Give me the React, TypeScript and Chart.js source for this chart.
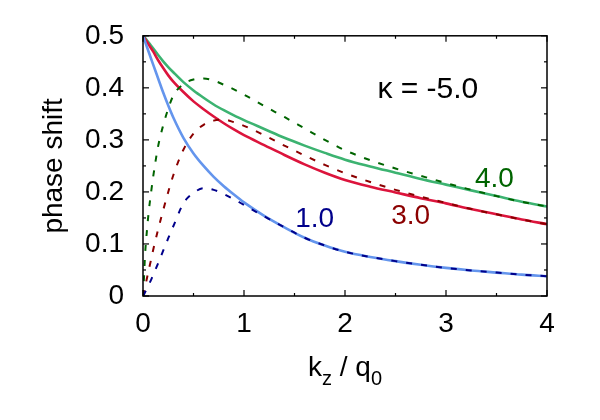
import { useEffect, useRef } from 'react';
import { Chart, registerables } from 'chart.js';
import type { Plugin } from 'chart.js';

Chart.register(...registerables);

// k_z / q_0 grid (finer near 0 where the dashed curves rise fast)
const kValues = [0, 0.01, 0.02, 0.04, 0.06, 0.08, 0.1, 0.15, 0.2, 0.25, 0.3, 0.4, 0.5, 0.6, 0.7, 0.8, 0.9, 1.0, 1.2, 1.4, 1.6, 1.8, 2.0, 2.25, 2.5, 2.75, 3.0, 3.25, 3.5, 3.75, 4.0];

// solid curves
const solid1 = [0.5, 0.4945, 0.489, 0.478, 0.467, 0.456, 0.445, 0.418, 0.391, 0.366, 0.343, 0.304, 0.274, 0.25, 0.229, 0.211, 0.195, 0.18, 0.154, 0.132, 0.112, 0.097, 0.085, 0.075, 0.067, 0.06, 0.054, 0.049, 0.045, 0.041, 0.038];
const solid3 = [0.5, 0.497, 0.494, 0.488, 0.482, 0.476, 0.47, 0.453, 0.438, 0.424, 0.412, 0.392, 0.374, 0.359, 0.345, 0.332, 0.32, 0.309, 0.29, 0.271, 0.253, 0.237, 0.223, 0.21, 0.199, 0.188, 0.178, 0.167, 0.157, 0.147, 0.138];
const solid4 = [0.5, 0.498, 0.496, 0.491, 0.486, 0.481, 0.476, 0.463, 0.451, 0.44, 0.43, 0.411, 0.395, 0.381, 0.368, 0.357, 0.347, 0.338, 0.321, 0.304, 0.289, 0.275, 0.262, 0.249, 0.237, 0.225, 0.214, 0.203, 0.192, 0.181, 0.172];

// dashed curves
const dashed1 = [0, 0.003, 0.007, 0.015, 0.023, 0.031, 0.04, 0.063, 0.087, 0.111, 0.134, 0.178, 0.198, 0.207, 0.204, 0.196, 0.186, 0.175, 0.153, 0.132, 0.112, 0.097, 0.085, 0.075, 0.067, 0.06, 0.054, 0.049, 0.045, 0.041, 0.038];
const dashed3 = [0, 0.008, 0.017, 0.035, 0.053, 0.07, 0.088, 0.128, 0.165, 0.2, 0.232, 0.281, 0.312, 0.329, 0.337, 0.339, 0.334, 0.327, 0.309, 0.289, 0.27, 0.252, 0.236, 0.219, 0.204, 0.191, 0.179, 0.167, 0.157, 0.147, 0.138];
const dashed4 = [0, 0.036, 0.078, 0.128, 0.168, 0.199, 0.228, 0.288, 0.328, 0.36, 0.385, 0.407, 0.416, 0.418, 0.414, 0.406, 0.397, 0.387, 0.365, 0.344, 0.322, 0.3, 0.28, 0.261, 0.245, 0.231, 0.217, 0.204, 0.192, 0.181, 0.172];

const xMinorTicks = [0.5, 1.5, 2.5, 3.5];
const yMinorTicks = [0.05, 0.15, 0.25, 0.35, 0.45];

const curveLabels = ['1.0', '3.0', '4.0'];
const kappaLabel = 'κ = -5.0';

const FONT = '"Liberation Sans", Arial, sans-serif';

const toPoints = (ys: number[]) => kValues.map((k, i) => ({ x: k, y: ys[i] }));

const frameAndText: Plugin<'line'> = {
  id: 'frameAndText',
  afterDraw(chart) {
    const { ctx, chartArea: a } = chart;
    const xs = chart.scales.x;
    const ys = chart.scales.y;
    ctx.save();
    ctx.strokeStyle = '#000';
    ctx.lineWidth = 1.2;
    const seg = (x1: number, y1: number, x2: number, y2: number) => {
      ctx.beginPath();
      ctx.moveTo(x1, y1);
      ctx.lineTo(x2, y2);
      ctx.stroke();
    };
    // inward ticks on all four sides
    xs.ticks.forEach(t => {
      const px = xs.getPixelForValue(t.value);
      seg(px, a.bottom, px, a.bottom - 6);
      seg(px, a.top, px, a.top + 6);
    });
    xMinorTicks.forEach(v => {
      const px = xs.getPixelForValue(v);
      seg(px, a.bottom, px, a.bottom - 3);
      seg(px, a.top, px, a.top + 3);
    });
    ys.ticks.forEach(t => {
      const py = ys.getPixelForValue(t.value);
      seg(a.left, py, a.left + 6, py);
      seg(a.right, py, a.right - 6, py);
    });
    yMinorTicks.forEach(v => {
      const py = ys.getPixelForValue(v);
      seg(a.left, py, a.left + 3, py);
      seg(a.right, py, a.right - 3, py);
    });
    ctx.lineWidth = 1.5;
    ctx.strokeRect(a.left, a.top, a.right - a.left, a.bottom - a.top);

    // axis titles
    ctx.fillStyle = '#000';
    ctx.textBaseline = 'middle';
    ctx.textAlign = 'center';
    ctx.font = `28px ${FONT}`;
    ctx.save();
    ctx.translate(54, (a.top + a.bottom) / 2);
    ctx.rotate(-Math.PI / 2);
    ctx.fillText('phase shift', 0, 0);
    ctx.restore();

    // k_z / q_0 with subscripts
    const big = `28px ${FONT}`;
    const small = `20px ${FONT}`;
    const parts: [string, boolean][] = [['k', false], ['z', true], [' / q', false], ['0', true]];
    let total = 0;
    parts.forEach(([s, sub]) => {
      ctx.font = sub ? small : big;
      total += ctx.measureText(s).width;
    });
    let cx = (a.left + a.right) / 2 - total / 2;
    const baseY = 376;
    ctx.textAlign = 'left';
    ctx.textBaseline = 'alphabetic';
    parts.forEach(([s, sub]) => {
      ctx.font = sub ? small : big;
      ctx.fillText(s, cx, sub ? baseY + 9 : baseY);
      cx += ctx.measureText(s).width;
    });

    // annotations in data coordinates
    ctx.textAlign = 'center';
    ctx.textBaseline = 'middle';
    ctx.font = `30px ${FONT}`;
    ctx.fillStyle = '#000';
    ctx.fillText(kappaLabel, xs.getPixelForValue(2.82), ys.getPixelForValue(0.397));
    ctx.font = `28px ${FONT}`;
    const labelPos: [number, number, string][] = [
      [1.7, 0.148, '#00008b'],
      [2.65, 0.154, '#8b0000'],
      [3.48, 0.225, '#006400'],
    ];
    curveLabels.forEach((txt, i) => {
      const [k, v, c] = labelPos[i];
      ctx.fillStyle = c;
      ctx.fillText(txt, xs.getPixelForValue(k), ys.getPixelForValue(v));
    });
    ctx.restore();
  },
};

export default function App() {
  const canvasRef = useRef<HTMLCanvasElement>(null);

  useEffect(() => {
    if (!canvasRef.current) return;
    const ctx = canvasRef.current.getContext('2d');
    if (!ctx) return;

    const dash = [6, 9];
    const chart = new Chart(ctx, {
      type: 'line',
      data: {
        datasets: [
          { data: toPoints(dashed1), borderColor: '#00008b', borderWidth: 2, borderDash: dash },
          { data: toPoints(dashed3), borderColor: '#8b0000', borderWidth: 2, borderDash: dash },
          { data: toPoints(dashed4), borderColor: '#006400', borderWidth: 2, borderDash: dash },
          { data: toPoints(solid1), borderColor: '#6495ed', borderWidth: 2.6 },
          { data: toPoints(solid3), borderColor: '#dc143c', borderWidth: 2.6 },
          { data: toPoints(solid4), borderColor: '#3cb371', borderWidth: 2.6 },
        ],
      },
      options: {
        responsive: false,
        animation: false,
        parsing: false,
        elements: {
          point: { radius: 0 },
          line: { cubicInterpolationMode: 'monotone', fill: false },
        },
        layout: { padding: { left: 0, top: 29, right: 53, bottom: 0 } },
        plugins: { legend: { display: false }, tooltip: { enabled: false } },
        scales: {
          x: {
            type: 'linear',
            min: 0,
            max: 4,
            grid: { display: false, drawTicks: false },
            border: { display: false },
            ticks: { stepSize: 1, color: '#000', padding: 11, font: { family: FONT, size: 28 }, maxRotation: 0 },
            afterFit: s => { s.height = 124; },
          },
          y: {
            min: 0,
            max: 0.5,
            grid: { display: false, drawTicks: false },
            border: { display: false },
            ticks: {
              stepSize: 0.1,
              color: '#000',
              padding: 19,
              font: { family: FONT, size: 28 },
              callback: v => (Number(v) === 0 ? '0' : Number(v).toFixed(1)),
            },
            afterFit: s => { s.width = 143; },
          },
        },
      },
      plugins: [frameAndText],
    });

    return () => chart.destroy();
  }, []);

  return (
    <div style={{ position: 'fixed', left: 0, top: 0, width: 600, height: 420, background: '#fff' }}>
      <canvas ref={canvasRef} width={600} height={420} />
    </div>
  );
}
